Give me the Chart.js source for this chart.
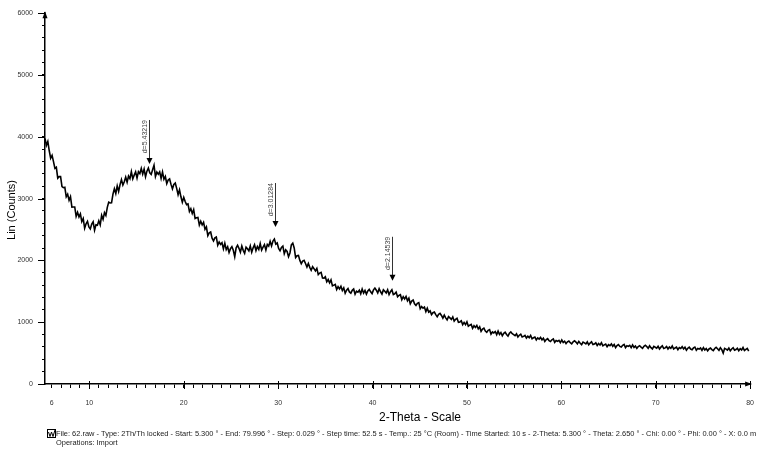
<!DOCTYPE html>
<html>
<head>
<meta charset="utf-8">
<title>62.raw</title>
<script src="https://cdn.jsdelivr.net/npm/chart.js@4.4.1/dist/chart.umd.min.js"></script>
<style>
  body { margin: 0; background: #fff; }
  canvas { display: block; }
</style>
</head>
<body>
<canvas id="xrd" width="765" height="449"></canvas>
<script>
// scan settings (2-Theta, degrees)
const startAngle = 5.3;
const stepAngle = 0.15;

// Lin (Counts), every 0.15 deg (noise estimated by eye)
const counts = [
  3974, 3862, 3924, 3774, 3653, 3700, 3598, 3488, 3506, 3331,
  3356, 3357, 3195, 3177, 3183, 3029, 3072, 2971, 3030, 2862,
  2865, 2865, 2713, 2779, 2704, 2754, 2628, 2678, 2520, 2593,
  2631, 2541, 2510, 2587, 2624, 2488, 2576, 2570, 2640, 2574,
  2729, 2665, 2774, 2728, 2858, 2943, 2929, 2931, 3072, 3160,
  3083, 3206, 3116, 3226, 3307, 3218, 3272, 3348, 3264, 3364,
  3321, 3436, 3320, 3380, 3432, 3331, 3436, 3404, 3489, 3396,
  3479, 3354, 3444, 3494, 3416, 3392, 3467, 3540, 3356, 3428,
  3394, 3433, 3326, 3432, 3312, 3358, 3242, 3301, 3318, 3230,
  3158, 3230, 3252, 3166, 3062, 3142, 3029, 2941, 3020, 2953,
  2903, 2914, 2791, 2838, 2759, 2820, 2678, 2690, 2695, 2573,
  2633, 2574, 2616, 2502, 2542, 2400, 2447, 2459, 2359, 2316,
  2365, 2379, 2244, 2297, 2259, 2285, 2187, 2279, 2175, 2221,
  2127, 2190, 2222, 2164, 2060, 2204, 2245, 2196, 2133, 2232,
  2163, 2115, 2215, 2188, 2155, 2234, 2131, 2203, 2254, 2158,
  2224, 2178, 2273, 2168, 2216, 2257, 2167, 2258, 2231, 2310,
  2235, 2314, 2345, 2262, 2281, 2194, 2156, 2211, 2233, 2107,
  2171, 2145, 2060, 2120, 2251, 2280, 2201, 2047, 2077, 2082,
  2000, 1948, 1988, 2000, 1950, 1892, 1950, 1888, 1840, 1898,
  1866, 1830, 1870, 1770, 1795, 1807, 1715, 1713, 1735, 1653,
  1690, 1637, 1685, 1588, 1600, 1611, 1528, 1576, 1540, 1581,
  1513, 1555, 1469, 1519, 1544, 1489, 1470, 1516, 1538, 1452,
  1501, 1487, 1518, 1459, 1536, 1472, 1513, 1454, 1505, 1531,
  1492, 1463, 1523, 1553, 1518, 1473, 1542, 1492, 1455, 1524,
  1502, 1474, 1525, 1446, 1493, 1524, 1447, 1460, 1488, 1413,
  1435, 1445, 1363, 1412, 1377, 1417, 1347, 1388, 1298, 1341,
  1359, 1297, 1270, 1306, 1317, 1218, 1254, 1226, 1243, 1171,
  1226, 1162, 1183, 1124, 1154, 1164, 1123, 1089, 1128, 1144,
  1109, 1066, 1115, 1070, 1038, 1090, 1069, 1045, 1085, 1018,
  1046, 1064, 998, 1004, 1022, 961, 997, 961, 1005, 934,
  951, 964, 901, 942, 914, 947, 891, 924, 852, 888,
  904, 857, 837, 869, 881, 806, 842, 827, 849, 799,
  856, 802, 832, 781, 819, 837, 802, 776, 821, 842,
  814, 800, 782, 811, 762, 789, 807, 761, 770, 787,
  745, 774, 750, 785, 733, 748, 759, 714, 746, 727,
  754, 714, 741, 689, 719, 733, 700, 688, 715, 728,
  674, 702, 691, 707, 669, 712, 671, 693, 654, 682,
  695, 669, 649, 683, 700, 678, 650, 690, 659, 637,
  678, 665, 649, 681, 634, 663, 682, 638, 647, 666,
  624, 655, 632, 668, 618, 634, 647, 602, 636, 620,
  648, 611, 640, 590, 622, 639, 608, 598, 627, 641,
  589, 618, 608, 625, 588, 632, 592, 614, 577, 606,
  620, 595, 576, 611, 628, 606, 578, 619, 588, 567,
  608, 595, 580, 612, 567, 596, 617, 574, 585, 605,
  566, 598, 577, 615, 566, 583, 597, 555, 590, 575,
  604, 567, 596, 547, 579, 596, 565, 555, 584, 598,
  546, 575, 565, 582, 545, 589, 550, 573, 537, 567,
  581, 557, 539, 575, 593, 571, 544, 586, 556, 500,
  577, 565, 549, 582, 537, 567, 588, 546, 557, 578,
  539, 572, 551, 590, 542, 560, 575, 533
];

// peak markers
const peakLabels = ['d=5.43219', 'd=3.01284', 'd=2.14539'];
const peakAngles = [16.35, 29.68, 42.08];
const peakTipCounts = [3560, 2540, 1670];

// axis ticks / labels
const xTickValues = Array.from({ length: 75 }, (_, i) => 6 + i);
const xLabelValues = [6, 10, 20, 30, 40, 50, 60, 70, 80];
const yLabelValues = [0, 1000, 2000, 3000, 4000, 5000, 6000];

const footerLines = [
  'File: 62.raw - Type: 2Th/Th locked - Start: 5.300 \u00b0 - End: 79.996 \u00b0 - Step: 0.029 \u00b0 - Step time: 52.5 s - Temp.: 25 \u00b0C (Room) - Time Started: 10 s - 2-Theta: 5.300 \u00b0 - Theta: 2.650 \u00b0 - Chi: 0.00 \u00b0 - Phi: 0.00 \u00b0 - X: 0.0 m',
  'Operations: Import'
];

const points = counts.map((c, i) => ({ x: +(startAngle + i * stepAngle).toFixed(2), y: c }));

const FONT = '"Liberation Sans", Arial, sans-serif';

const decor = {
  id: 'decor',
  afterDraw(chart) {
    const ctx = chart.ctx;
    const xs = chart.scales.x, ys = chart.scales.y;
    const area = chart.chartArea;
    ctx.save();

    // longer major ticks
    ctx.strokeStyle = '#000';
    ctx.lineWidth = 1;
    ctx.beginPath();
    for (let v = 10; v <= 80; v += 10) {
      const px = Math.round(xs.getPixelForValue(v)) + 0.5;
      ctx.moveTo(px, area.bottom - 3);
      ctx.lineTo(px, area.bottom + 5);
    }
    yLabelValues.forEach(v => {
      const py = Math.round(ys.getPixelForValue(v)) + 0.5;
      ctx.moveTo(area.left - 7, py);
      ctx.lineTo(area.left, py);
    });
    ctx.stroke();

    // axis end arrows
    ctx.fillStyle = '#000';
    ctx.beginPath();
    ctx.moveTo(area.left, area.top - 2);
    ctx.lineTo(area.left - 2.5, area.top + 5);
    ctx.lineTo(area.left + 2.5, area.top + 5);
    ctx.closePath();
    ctx.fill();
    ctx.beginPath();
    ctx.moveTo(area.right + 2, area.bottom);
    ctx.lineTo(area.right - 5, area.bottom - 2.5);
    ctx.lineTo(area.right - 5, area.bottom + 2.5);
    ctx.closePath();
    ctx.fill();

    // peak arrows with d-spacing labels
    peakLabels.forEach((label, i) => {
      const px = Math.round(xs.getPixelForValue(peakAngles[i])) + 0.5;
      const tip = ys.getPixelForValue(peakTipCounts[i]);
      const top = tip - 44;
      ctx.strokeStyle = '#333';
      ctx.lineWidth = 1;
      ctx.beginPath();
      ctx.moveTo(px, top);
      ctx.lineTo(px, tip - 4);
      ctx.stroke();
      ctx.fillStyle = '#000';
      ctx.beginPath();
      ctx.moveTo(px, tip);
      ctx.lineTo(px - 3, tip - 6);
      ctx.lineTo(px + 3, tip - 6);
      ctx.closePath();
      ctx.fill();
      ctx.save();
      ctx.translate(px - 1, top);
      ctx.rotate(-Math.PI / 2);
      ctx.font = '7px ' + FONT;
      ctx.fillStyle = '#444';
      ctx.textAlign = 'right';
      ctx.textBaseline = 'bottom';
      ctx.fillText(label, 0, 0);
      ctx.restore();
    });

    // axis titles
    ctx.fillStyle = '#000';
    ctx.font = '11px ' + FONT;
    ctx.save();
    ctx.translate(12, 210);
    ctx.rotate(-Math.PI / 2);
    ctx.textAlign = 'center';
    ctx.textBaseline = 'middle';
    ctx.fillText('Lin (Counts)', 0, 0);
    ctx.restore();

    ctx.font = '12px ' + FONT;
    ctx.textAlign = 'center';
    ctx.textBaseline = 'middle';
    ctx.fillText('2-Theta - Scale', 420, 418);

    // footer
    ctx.strokeStyle = '#000';
    ctx.lineWidth = 1;
    ctx.strokeRect(47.5, 429.5, 8, 8);
    ctx.beginPath();
    ctx.moveTo(48.5, 432);
    ctx.lineTo(50, 436.5);
    ctx.lineTo(51.5, 432);
    ctx.lineTo(53, 436.5);
    ctx.lineTo(55, 430);
    ctx.stroke();
    ctx.fillStyle = '#222';
    ctx.font = '7.45px ' + FONT;
    ctx.textAlign = 'left';
    ctx.textBaseline = 'middle';
    ctx.fillText(footerLines[0], 56, 433.5);
    ctx.fillText(footerLines[1], 56, 442.5);

    ctx.restore();
  }
};

new Chart(document.getElementById('xrd'), {
  type: 'line',
  data: {
    datasets: [{
      data: points,
      borderColor: '#000',
      borderWidth: 1.6,
      pointRadius: 0,
      tension: 0,
      fill: false
    }]
  },
  options: {
    responsive: false,
    animation: false,
    devicePixelRatio: 1,
    layout: { padding: { top: 10, right: 2, left: 0, bottom: 0 } },
    plugins: { legend: { display: false }, tooltip: { enabled: false } },
    scales: {
      x: {
        type: 'linear',
        min: startAngle,
        max: 80,
        afterFit: s => { s.height = 65; },
        afterBuildTicks: s => { s.ticks = xTickValues.map(v => ({ value: v })); },
        border: { color: '#000', width: 1.5 },
        grid: { drawOnChartArea: false, tickLength: 4, tickColor: '#000', tickWidth: 1 },
        ticks: {
          autoSkip: false,
          maxRotation: 0,
          padding: 11,
          color: '#333',
          font: { family: FONT, size: 7 },
          callback: v => xLabelValues.includes(v) ? String(v) : ''
        }
      },
      y: {
        min: 0,
        max: 6000,
        afterFit: s => { s.width = 45; },
        border: { color: '#000', width: 1.5 },
        grid: { drawOnChartArea: false, tickLength: 3, tickColor: '#000', tickWidth: 1 },
        ticks: {
          stepSize: 200,
          autoSkip: false,
          padding: 9,
          color: '#333',
          font: { family: FONT, size: 7 },
          callback: v => yLabelValues.includes(v) ? String(v) : ''
        }
      }
    }
  },
  plugins: [decor]
});
</script>
</body>
</html>
